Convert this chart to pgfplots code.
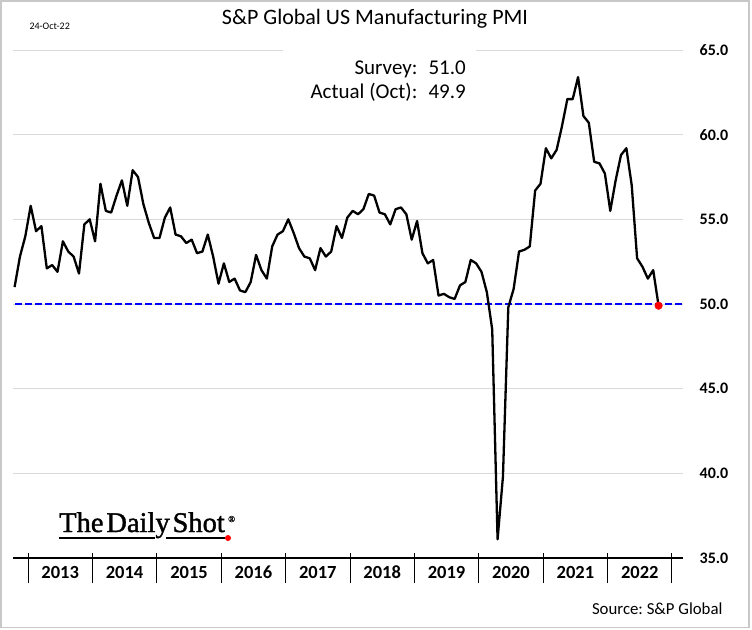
\documentclass[border=0pt]{standalone}
\usepackage{pgfplots}
\pgfplotsset{compat=1.18}
\usepackage{pgfplotstable}
\usepackage{fontspec}
\setmainfont{Carlito}
\newfontfamily\logofont[FakeBold=1.3]{Liberation Serif}
\frenchspacing

% S&P Global US Manufacturing PMI, monthly
\pgfplotstableread{
year month pmi
2012 10 51.0
2012 11 52.8
2012 12 54.0
2013 1 55.8
2013 2 54.3
2013 3 54.6
2013 4 52.1
2013 5 52.3
2013 6 51.9
2013 7 53.7
2013 8 53.1
2013 9 52.8
2013 10 51.8
2013 11 54.7
2013 12 55.0
2014 1 53.7
2014 2 57.1
2014 3 55.5
2014 4 55.4
2014 5 56.4
2014 6 57.3
2014 7 55.8
2014 8 57.9
2014 9 57.5
2014 10 55.9
2014 11 54.8
2014 12 53.9
2015 1 53.9
2015 2 55.1
2015 3 55.7
2015 4 54.1
2015 5 54.0
2015 6 53.6
2015 7 53.8
2015 8 53.0
2015 9 53.1
2015 10 54.1
2015 11 52.8
2015 12 51.2
2016 1 52.4
2016 2 51.3
2016 3 51.5
2016 4 50.8
2016 5 50.7
2016 6 51.3
2016 7 52.9
2016 8 52.0
2016 9 51.5
2016 10 53.4
2016 11 54.1
2016 12 54.3
2017 1 55.0
2017 2 54.2
2017 3 53.3
2017 4 52.8
2017 5 52.7
2017 6 52.0
2017 7 53.3
2017 8 52.8
2017 9 53.1
2017 10 54.6
2017 11 53.9
2017 12 55.1
2018 1 55.5
2018 2 55.3
2018 3 55.6
2018 4 56.5
2018 5 56.4
2018 6 55.4
2018 7 55.3
2018 8 54.7
2018 9 55.6
2018 10 55.7
2018 11 55.3
2018 12 53.8
2019 1 54.9
2019 2 53.0
2019 3 52.4
2019 4 52.6
2019 5 50.5
2019 6 50.6
2019 7 50.4
2019 8 50.3
2019 9 51.1
2019 10 51.3
2019 11 52.6
2019 12 52.4
2020 1 51.9
2020 2 50.7
2020 3 48.5
2020 4 36.1
2020 5 39.8
2020 6 49.8
2020 7 50.9
2020 8 53.1
2020 9 53.2
2020 10 53.4
2020 11 56.7
2020 12 57.1
2021 1 59.2
2021 2 58.6
2021 3 59.1
2021 4 60.5
2021 5 62.1
2021 6 62.1
2021 7 63.4
2021 8 61.1
2021 9 60.7
2021 10 58.4
2021 11 58.3
2021 12 57.7
2022 1 55.5
2022 2 57.3
2022 3 58.8
2022 4 59.2
2022 5 57.0
2022 6 52.7
2022 7 52.2
2022 8 51.5
2022 9 52.0
2022 10 49.9
}\pmidata

\definecolor{gridgray}{RGB}{217,217,217}
\definecolor{framegray}{RGB}{200,200,200}

\begin{document}
\begin{tikzpicture}[x=1pt,y=1pt]
\useasboundingbox (0,0) rectangle (752,-629);
\draw[line width=1.5pt, framegray] (0.75,-0.75) rectangle (749,-627.5);

\begin{axis}[
  at={(13pt,-558pt)}, anchor=south west,
  scale only axis, width=670pt, height=508pt,
  xmin=2012.767, xmax=2023.171,
  ymin=35, ymax=65,
  axis x line*=bottom, axis y line*=right,
  x axis line style={line width=1.2pt},
  y axis line style={draw=none},
  ytick={35,40,...,65},
  ymajorgrids, grid style={gridgray, line width=0.8pt},
  ytick style={draw=none},
  yticklabel style={anchor=center, xshift=31pt,
    font=\bfseries\fontsize{16}{18}\selectfont,
    /pgf/number format/.cd, fixed, fixed zerofill, precision=1,
    assume math mode=true},
  xtick={2013.5,2014.5,2015.5,2016.5,2017.5,2018.5,2019.5,2020.5,2021.5,2022.5},
  xticklabels={2013,2014,2015,2016,2017,2018,2019,2020,2021,2022},
  xtick style={draw=none},
  xticklabel style={anchor=center, yshift=-14pt,
    font=\bfseries\fontsize{18.5}{20}\selectfont},
  extra x ticks={2013,2014,2015,2016,2017,2018,2019,2020,2021,2022,2023},
  extra x tick labels={},
  extra x tick style={major tick length=30pt, tick align=center,
    xtick style={draw=black, line width=1pt, yshift=-10pt}},
  clip=false,
]
\addplot[blue, line width=2pt, dash pattern=on 6.5pt off 3.5pt]
  coordinates {(2012.80,50) (2023.171,50)};
\addplot[black, line width=2.3pt, line join=round]
  table[x expr={\thisrow{year}+(\thisrow{month}-0.5)/12}, y=pmi] {\pmidata};
\addplot[only marks, mark=*, mark size=3.8pt, red]
  coordinates {(2022.7917,49.9)};
\end{axis}

% box of the survey figures
\fill[white] (283,-40) rectangle (476,-104);
\node[anchor=base east, font=\fontsize{21}{24}\selectfont] at (421,-74) {Survey:};
\node[anchor=base west, font=\fontsize{21}{24}\selectfont] at (425,-74) {51.0};
\node[anchor=base east, font=\fontsize{21}{24}\selectfont] at (421,-98) {Actual (Oct):};
\node[anchor=base west, font=\fontsize{21}{24}\selectfont] at (425,-98) {49.9};

\node[font=\fontsize{22}{26}\selectfont] at (375,-19) {S\&P Global US Manufacturing PMI};
\node[anchor=west, font=\fontsize{10}{12}\selectfont] at (26,-26) {24-Oct-22};
\node[anchor=base east, font=\fontsize{16.8}{19}\selectfont] at (726,-614) {Source: S\&P Global};

% logo
\node[anchor=base west, inner sep=0pt, font=\logofont\fontsize{28.5}{31}\selectfont] at (59,-532)
  {\spaceskip=0.1em The Daily Shot};
\node[anchor=base west, inner sep=0pt, font=\logofont\fontsize{9}{10}\selectfont] at (228,-522) {\textregistered};
\draw[line width=1.6pt] (59,-538) -- (155,-538);
\draw[line width=1.6pt] (166,-538) -- (225,-538);
\fill[red] (228,-538) circle (3);
\end{tikzpicture}
\end{document}
